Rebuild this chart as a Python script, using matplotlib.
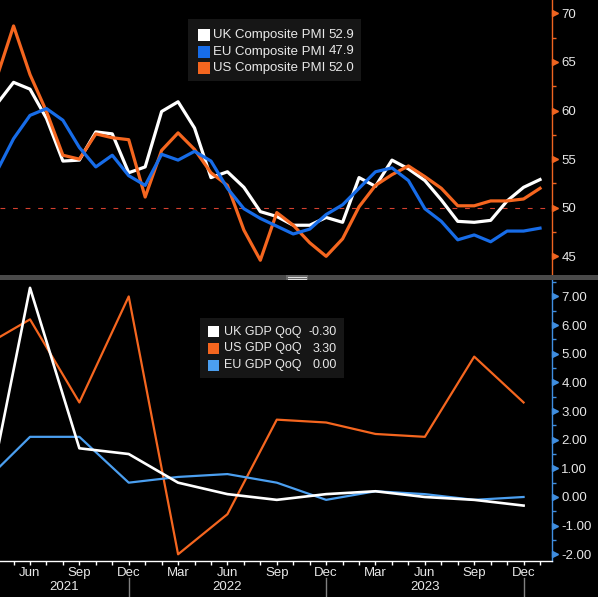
import matplotlib
matplotlib.use("Agg")
import matplotlib.pyplot as plt
import numpy as np
import pandas as pd
from matplotlib.patches import Rectangle
from matplotlib.lines import Line2D

# ---------------- data ----------------
pmi_start, pmi_end = "2021-04", "2024-01"
uk_pmi = [60.7, 62.9, 62.2, 59.2, 54.8, 54.9, 57.8, 57.6, 53.6,
          54.2, 59.9, 60.9, 58.2, 53.1, 53.7, 52.1, 49.6, 49.1, 48.2, 48.2, 49.0,
          48.5, 53.1, 52.2, 54.9, 54.0, 52.8, 50.8, 48.6, 48.5, 48.7, 50.7, 52.1,
          52.9]
eu_pmi = [53.8, 57.1, 59.5, 60.2, 59.0, 56.2, 54.2, 55.4, 53.3,
          52.3, 55.5, 54.9, 55.8, 54.8, 52.0, 49.9, 48.9, 48.1, 47.3, 47.8, 49.3,
          50.3, 52.0, 53.7, 54.1, 52.8, 49.9, 48.6, 46.7, 47.2, 46.5, 47.6, 47.6,
          47.9]
us_pmi = [63.5, 68.7, 63.7, 59.9, 55.4, 55.0, 57.6, 57.2, 57.0,
          51.1, 55.9, 57.7, 56.0, 53.6, 52.3, 47.7, 44.6, 49.5, 48.2, 46.4, 45.0,
          46.8, 50.1, 52.3, 53.4, 54.3, 53.2, 52.0, 50.2, 50.2, 50.7, 50.7, 50.9,
          52.0]

gdp_start, gdp_end = "2021-03", "2023-12"
uk_gdp = [-1.3, 7.3, 1.7, 1.5, 0.5, 0.1, -0.1, 0.1, 0.2, 0.0, -0.1, -0.3]
us_gdp = [5.2, 6.2, 3.3, 7.0, -2.0, -0.6, 2.7, 2.6, 2.2, 2.1, 4.9, 3.3]
eu_gdp = [0.4, 2.1, 2.1, 0.5, 0.7, 0.8, 0.5, -0.1, 0.2, 0.1, -0.1, 0.0]

pmi_names = ["UK Composite PMI", "EU Composite PMI", "US Composite PMI"]
gdp_names = ["UK GDP QoQ", "US GDP QoQ", "EU GDP QoQ"]
years = ["2021", "2022", "2023"]

# ---------------- style ----------------
W, H = 598, 597
C_UK = "#ffffff"
C_EU = "#176ce8"
C_US = "#f5661f"
C_EUG = "#4b9ff0"
C_AX1 = "#ef6420"
C_AX2 = "#3f8ee0"
C_TXT = "#e8e8e8"
FONT = "Liberation Sans"
plt.rcParams["font.family"] = [FONT, "DejaVu Sans"]

fig = plt.figure(figsize=(W / 100, H / 100), dpi=100, facecolor="black")


def fx(px):
    return px / W


def fy(py):
    return 1 - py / H


origin = pd.Period("2021-06", "M")
pmi_per = pd.period_range(pmi_start, pmi_end, freq="M")
x_pmi = np.array([(p - origin).n for p in pmi_per])
gdp_per = pd.period_range(gdp_start, gdp_end, freq="M")[::3]
x_gdp = np.array([(p - origin).n for p in gdp_per])

XMIN, XMAX = -1.824, 31.71

# ---------------- top panel ----------------
ax1 = fig.add_axes([0, fy(275), fx(551.7), 275 / H])
ax1.set_facecolor("black")
ax1.set_xlim(XMIN, XMAX)
ax1.set_ylim(43.08, 71.37)
ax1.axhline(50, color="#d4402f", lw=0.8, dashes=(4.3, 7))
ax1.plot(x_pmi, us_pmi, color=C_US, lw=2.3, zorder=3)
ax1.plot(x_pmi, eu_pmi, color=C_EU, lw=2.3, zorder=4)
ax1.plot(x_pmi, uk_pmi, color=C_UK, lw=2.3, zorder=2)

# ---------------- bottom panel ----------------
ax2 = fig.add_axes([0, fy(561), fx(551.7), (561 - 280) / H])
ax2.set_facecolor("black")
ax2.set_xlim(XMIN, XMAX)
ax2.set_ylim(-2.234, 7.574)
ax2.plot(x_gdp, us_gdp, color=C_US, lw=1.6, zorder=2)
ax2.plot(x_gdp, eu_gdp, color=C_EUG, lw=1.6, zorder=3)
ax2.plot(x_gdp, uk_gdp, color=C_UK, lw=1.9, zorder=4)

for ax, col, majors, minor_step, fmt in [
    (ax1, C_AX1, np.arange(45, 71, 5), 2.5, "{:.0f}"),
    (ax2, C_AX2, np.arange(-2, 8, 1), 0.5, "{:.2f}"),
]:
    for s in ["left", "top", "bottom"]:
        ax.spines[s].set_visible(False)
    ax.spines["right"].set_color(col)
    ax.spines["right"].set_linewidth(1)
    ax.yaxis.tick_right()
    ax.set_yticks(majors)
    ax.set_yticklabels([fmt.format(v) for v in majors])
    lo, hi = ax.get_ylim()
    ax.set_yticks(np.arange(np.ceil(lo / minor_step) * minor_step, hi, minor_step), minor=True)
    ax.tick_params(axis="y", which="major", length=0, pad=7, labelsize=9.5,
                   labelcolor=C_TXT)
    ax.tick_params(axis="y", which="minor", length=3, width=1, color=col, direction="out")
    ax.plot([1.0065] * len(majors), majors, marker=">", ms=5, color=col, ls="none",
            transform=ax.get_yaxis_transform(), clip_on=False, zorder=10)

ax1.set_xticks([])

# x axis of bottom panel
ax2.spines["bottom"].set_visible(True)
ax2.spines["bottom"].set_color("white")
ax2.spines["bottom"].set_linewidth(1)
qmask = x_gdp >= XMIN
qticks = x_gdp[qmask]
qper = [p for p, m in zip(gdp_per, qmask) if m]
ax2.set_xticks(qticks)
ax2.set_xticklabels([p.strftime("%b") for p in qper])
ax2.set_xticks(x_pmi[(x_pmi >= XMIN) & (x_pmi <= XMAX)], minor=True)
ax2.tick_params(axis="x", which="both", length=3, width=1, color="white",
                direction="out", pad=1.5, labelsize=9.5, labelcolor=C_TXT)

# year labels and separators
tr = ax2.get_xaxis_transform()
dec_x = [(pd.Period(f"{y}-12", "M") - origin).n for y in years]
left_bounds = [XMIN] + dec_x[:-1]
for yr, lb, rb in zip(years, left_bounds, dec_x):
    ax2.text((lb + rb) / 2, (561 - 587) / 281, yr, transform=tr, ha="center",
             va="center", fontsize=9.5, color=C_TXT)
    ax2.plot([rb, rb], [(561 - 578) / 281, (561 - 597) / 281], color="#808080",
             lw=1, transform=tr, clip_on=False)

# separator band
fig.patches.append(Rectangle((0, fy(280)), 1, 5 / H, transform=fig.transFigure,
                             facecolor="#4a4a4a", edgecolor="none", zorder=5))
fig.patches.append(Rectangle((fx(286), fy(280)), fx(22), 5 / H, transform=fig.transFigure,
                             facecolor="#6a6a6a", edgecolor="none", zorder=6))
for yy in (276.8, 278.8):
    fig.lines.append(Line2D([fx(288), fx(306)], [fy(yy), fy(yy)], transform=fig.transFigure,
                            color="#e0e0e0", lw=0.7, zorder=7))


# ---------------- legends ----------------
def legend_box(box, rows, mx, msz, tx, nx, fs):
    x0, y0, x1, y1 = box
    fig.patches.append(Rectangle((fx(x0), fy(y1)), fx(x1 - x0), (y1 - y0) / H,
                                 transform=fig.transFigure, facecolor="#161616",
                                 edgecolor="none", zorder=8))
    for yc, col, lab, num in rows:
        fig.patches.append(Rectangle((fx(mx), fy(yc + msz / 2)), fx(msz), msz / H,
                                     transform=fig.transFigure, facecolor=col,
                                     edgecolor="none", zorder=9))
        fig.text(fx(tx), fy(yc), lab, ha="left", va="center", fontsize=fs,
                 color=C_TXT, zorder=9)
        fig.text(fx(nx), fy(yc), num, ha="right", va="center", fontsize=fs,
                 color=C_TXT, zorder=9)


legend_box((188, 19, 361, 81),
           [(35, C_UK, pmi_names[0], f"{uk_pmi[-1]:.1f}"),
            (51.5, C_EU, pmi_names[1], f"{eu_pmi[-1]:.1f}"),
            (68, C_US, pmi_names[2], f"{us_pmi[-1]:.1f}")],
           198, 12, 213, 354, 9.5)

legend_box((200, 318, 344, 378),
           [(332, C_UK, gdp_names[0], f"{uk_gdp[-1]:.2f}"),
            (348.5, C_US, gdp_names[1], f"{us_gdp[-1]:.2f}"),
            (365, C_EUG, gdp_names[2], f"{eu_gdp[-1]:.2f}")],
           208, 11, 224, 337, 9)

fig.savefig("out.png", dpi=100, facecolor="black")
